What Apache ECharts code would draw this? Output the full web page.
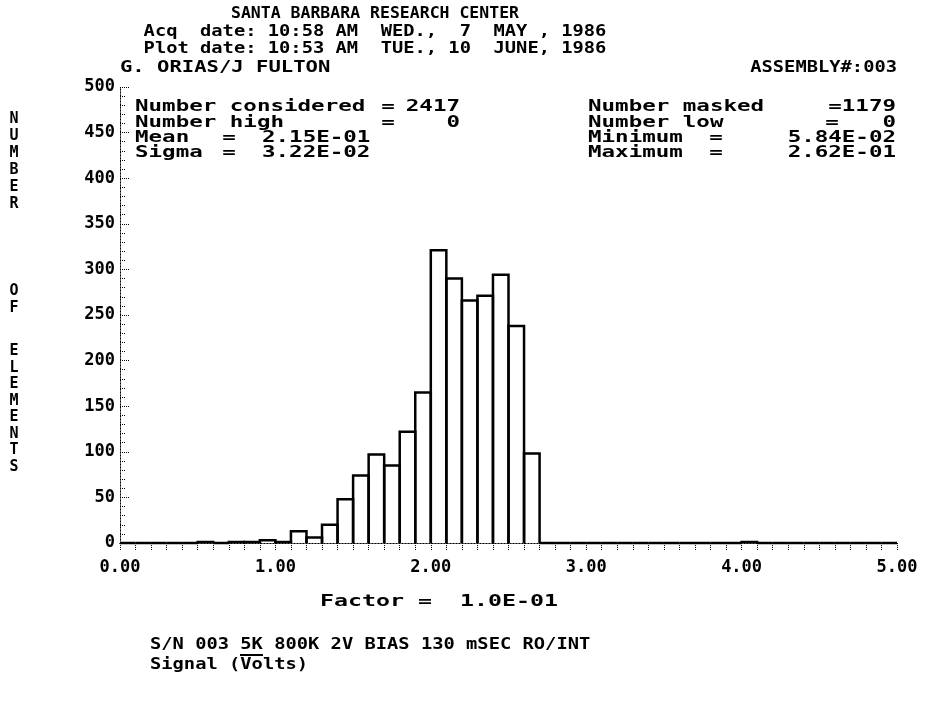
<!DOCTYPE html>
<html>
<head>
<meta charset="utf-8">
<script src="https://cdn.jsdelivr.net/npm/echarts@6/dist/echarts.min.js"></script>
<style>
  html, body { margin: 0; padding: 0; background: #fff; }
  #chart { width: 928px; height: 702px; }
</style>
</head>
<body>
<div id="chart"></div>
<script>
// histogram bins (Factor = 1.0E-01), left edge of each 0.1 bin
const binLeft = [
  0.0, 0.1, 0.2, 0.3, 0.4, 0.5, 0.6, 0.7, 0.8, 0.9,
  1.0, 1.1, 1.2, 1.3, 1.4, 1.5, 1.6, 1.7, 1.8, 1.9,
  2.0, 2.1, 2.2, 2.3, 2.4, 2.5, 2.6, 2.7, 2.8, 2.9,
  3.0, 3.1, 3.2, 3.3, 3.4, 3.5, 3.6, 3.7, 3.8, 3.9,
  4.0, 4.1, 4.2, 4.3, 4.4, 4.5, 4.6, 4.7, 4.8, 4.9
]
const binCount = [
  0, 0, 0, 0, 0, 1, 0, 1, 1, 3,
  1, 13, 6, 20, 48, 74, 97, 85, 122, 165,
  321, 290, 266, 271, 294, 238, 98, 0, 0, 0,
  0, 0, 0, 0, 0, 0, 0, 0, 0, 0,
  1, 0, 0, 0, 0, 0, 0, 0, 0, 0
]
const binWidth = 0.1

const headerLines = [
  'SANTA BARBARA RESEARCH CENTER',
  'Acq  date: 10:58 AM  WED.,  7  MAY , 1986',
  'Plot date: 10:53 AM  TUE., 10  JUNE, 1986'
]
const statsLeft = [
  ['Number considered', '=', '2417'],
  ['Number high', '=', '0'],
  ['Mean', '=', '2.15E-01'],
  ['Sigma', '=', '3.22E-02']
]
const statsRight = [
  ['Number masked', '=1179', ''],
  ['Number low', '=', '0'],
  ['Minimum', '=', '5.84E-02'],
  ['Maximum', '=', '2.62E-01']
]
const yNameWords = ['NUMBER', 'OF', 'ELEMENTS']

const FONT = '"DejaVu Sans Mono", monospace'
const txt = (x, y, text, opts = {}) => ({
  type: 'text',
  x: x,
  y: y,
  scaleX: opts.scaleX || 1.25,
  style: {
    text: text,
    font: 'bold ' + (opts.size || 15) + 'px ' + FONT,
    fill: '#000',
    textAlign: opts.align || 'left',
    textVerticalAlign: 'middle'
  }
})

const chart = echarts.init(document.getElementById('chart'))

const graphics = []
graphics.push(txt(375, 14, headerLines[0], { align: 'center', scaleX: 1.1 }))
graphics.push(txt(375, 32, headerLines[1], { align: 'center' }))
graphics.push(txt(375, 49, headerLines[2], { align: 'center' }))
graphics.push(txt(120, 68, 'G. ORIAS/J FULTON', { scaleX: 1.37 }))
graphics.push(txt(897, 68, 'ASSEMBLY#:003', { align: 'right', scaleX: 1.25 }))

const rowY = [107, 123, 138, 153]
const S = 1.5
statsLeft.forEach((r, i) => {
  graphics.push(txt(135, rowY[i], r[0], { scaleX: S }))
  if (i < 2) {
    graphics.push(txt(388, rowY[i], r[1], { align: 'center', scaleX: S }))
    graphics.push(txt(460, rowY[i], r[2], { align: 'right', scaleX: S }))
  } else {
    graphics.push(txt(229, rowY[i], r[1], { align: 'center', scaleX: S }))
    graphics.push(txt(262, rowY[i], r[2], { scaleX: S }))
  }
})
statsRight.forEach((r, i) => {
  graphics.push(txt(588, rowY[i], r[0], { scaleX: S }))
  if (i === 0) {
    graphics.push(txt(896, rowY[i], r[1], { align: 'right', scaleX: S }))
  } else if (i === 1) {
    graphics.push(txt(832, rowY[i], r[1], { align: 'center', scaleX: S }))
    graphics.push(txt(896, rowY[i], r[2], { align: 'right', scaleX: S }))
  } else {
    graphics.push(txt(716, rowY[i], r[1], { align: 'center', scaleX: S }))
    graphics.push(txt(896, rowY[i], r[2], { align: 'right', scaleX: S }))
  }
})

// vertical y-axis title, one letter per line (top of each word)
const wordTop = [111, 283, 343]
const wordStep = [17, 16.5, 16.5]
yNameWords.forEach((w, i) => {
  graphics.push({
    type: 'text',
    x: 14,
    y: wordTop[i],
    style: {
      text: w.split('').join('\n'),
      font: 'bold 15px ' + FONT,
      fill: '#000',
      textAlign: 'center',
      textVerticalAlign: 'top',
      lineHeight: wordStep[i]
    }
  })
})

graphics.push(txt(320, 602, 'Factor =  1.0E-01', { scaleX: 1.55 }))
graphics.push(txt(150, 645, 'S/N 003 5K 800K 2V BIAS 130 mSEC RO/INT'))
graphics.push({
  type: 'line',
  shape: { x1: 240, y1: 655, x2: 263, y2: 655 },
  style: { stroke: '#000', lineWidth: 2 }
})
graphics.push(txt(150, 665, 'Signal (Volts)'))

const dotted = { color: '#000', width: 1, type: [1, 2] }
const dotTick = { color: '#000', width: 1, type: [1, 1] }

const options = {
  animation: false,
  backgroundColor: '#fff',
  grid: { left: 120, right: 31, top: 87, bottom: 159 },
  graphic: graphics,
  xAxis: [
    {
      type: 'value',
      min: 0,
      max: 5,
      interval: 1,
      position: 'bottom',
      axisLine: { lineStyle: dotted },
      axisTick: { show: true, length: 8, inside: false, lineStyle: dotTick },
      minorTick: { show: true, splitNumber: 10, length: 7, lineStyle: dotTick },
      splitLine: { show: false },
      axisLabel: {
        margin: 16,
        color: '#000',
        fontFamily: FONT,
        fontWeight: 'bold',
        fontSize: 17,
        formatter: (v) => v.toFixed(2)
      }
    },
    {
      type: 'value',
      min: 0,
      max: 5,
      position: 'top',
      axisLine: { lineStyle: dotted },
      axisTick: { show: false },
      axisLabel: { show: false },
      splitLine: { show: false }
    }
  ],
  yAxis: [
    {
      type: 'value',
      min: 0,
      max: 500,
      interval: 50,
      position: 'left',
      axisLine: { show: true, lineStyle: dotted },
      axisTick: { show: true, inside: true, length: 9, lineStyle: dotTick },
      minorTick: { show: true, splitNumber: 5, length: 6, lineStyle: dotTick },
      splitLine: { show: false },
      axisLabel: {
        margin: 5,
        color: '#000',
        fontFamily: FONT,
        fontWeight: 'bold',
        fontSize: 17
      }
    },
    {
      type: 'value',
      min: 0,
      max: 500,
      position: 'right',
      axisLine: { show: true, lineStyle: dotted },
      axisTick: { show: false },
      axisLabel: { show: false },
      splitLine: { show: false }
    }
  ],
  series: [
    {
      type: 'custom',
      xAxisIndex: 0,
      yAxisIndex: 0,
      data: binLeft.map((x, i) => [x, x + binWidth, binCount[i]]),
      renderItem: (params, api) => {
        const x0 = api.value(0)
        const x1 = api.value(1)
        const h = api.value(2)
        const a = api.coord([x0, 0])
        const b = api.coord([x0, h])
        const c = api.coord([x1, h])
        const d = api.coord([x1, 0])
        return {
          type: 'polyline',
          shape: { points: [a, b, c, d] },
          style: { stroke: '#000', lineWidth: 2.5, fill: null }
        }
      }
    }
  ]
}

chart.setOption(options)
window.addEventListener('resize', () => chart.resize())
</script>
</body>
</html>
